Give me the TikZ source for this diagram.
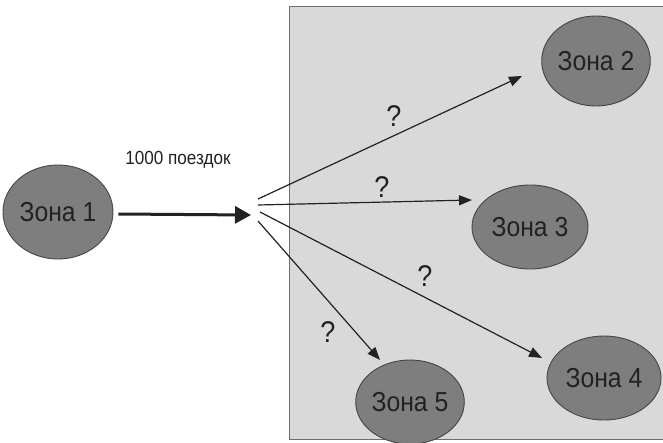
\documentclass[tikz,border=0pt]{standalone}
\usepackage{fontspec}
\setmainfont{Liberation Sans}
\newfontfamily\narrowfont[FakeStretch=0.9]{Liberation Sans}
\usetikzlibrary{arrows.meta,shapes.geometric}
\definecolor{zonefill}{HTML}{7E7E7E}
\definecolor{zoneline}{HTML}{454545}
\definecolor{boxfill}{HTML}{D9D9D9}
\definecolor{boxline}{HTML}{6E6E6E}
\definecolor{ink}{HTML}{222222}
\begin{document}
\begin{tikzpicture}[x=1pt,y=-1pt,
  zone/.style={ellipse,draw=zoneline,fill=zonefill,line width=0.9pt,inner sep=0pt,text=ink,font=\narrowfont\fontsize{27.5}{27.5}\selectfont},
  flow/.style={draw=ink,line width=1.2pt,-{Triangle[length=13pt,width=10pt]}},
  bigflow/.style={draw=ink,line width=3pt,-{Triangle[length=16pt,width=17pt]}},
  qlabel/.style={text=ink,font=\narrowfont\fontsize{30}{30}\selectfont}]
\useasboundingbox (0,0) rectangle (663,442);
\fill[white] (0,0) rectangle (663,442);
\draw[boxline,fill=boxfill,line width=1pt] (289,6) rectangle (664,439);
\node[zone,minimum width=110pt,minimum height=94pt] (z1) at (58,212) {Зона 1};
\node[zone,minimum width=108pt,minimum height=90pt] (z2) at (596,61) {Зона 2};
\node[zone,minimum width=116pt,minimum height=84pt] (z3) at (530,227) {Зона 3};
\node[zone,minimum width=114pt,minimum height=84pt] (z4) at (604,378) {Зона 4};
\node[zone,minimum width=106pt,minimum height=84pt] (z5) at (410,402) {Зона 5};
\coordinate (hub) at (251,215);
\coordinate (s2) at (258,199);
\coordinate (s3) at (258,205);
\coordinate (s4) at (260,212);
\coordinate (s5) at (258,221);
\coordinate (e2) at (522,76);
\coordinate (e3) at (472,200);
\coordinate (e4) at (542,358);
\coordinate (e5) at (380,360);
\draw[bigflow] (z1.east) ++(5,2) -- (hub);
\node[text=ink,font=\narrowfont\fontsize{19}{19}\selectfont] (lbl) at (178,160) {1000 поездок};
\draw[flow] (s2) -- (e2);
\draw[flow] (s3) -- (e3);
\draw[flow] (s4) -- (e4);
\draw[flow] (s5) -- (e5);
\node[qlabel] (q2) at (394,116) {?};
\node[qlabel] (q3) at (382,187) {?};
\node[qlabel] (q4) at (425,276) {?};
\node[qlabel] (q5) at (328,332) {?};
\end{tikzpicture}
\end{document}
